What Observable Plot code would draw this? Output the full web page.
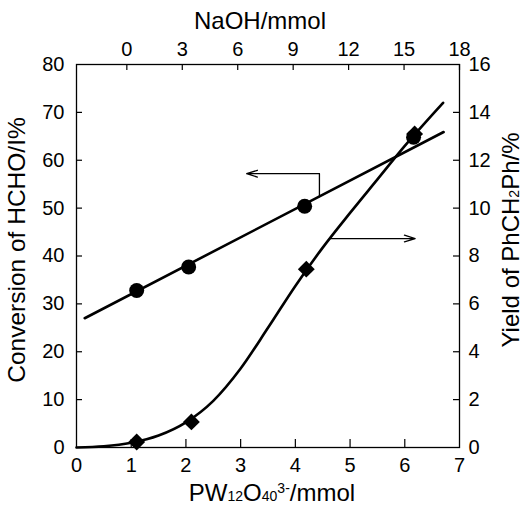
<!DOCTYPE html>
<html><head><meta charset="utf-8">
<script src="https://cdn.jsdelivr.net/npm/d3@7"></script>
<script src="https://cdn.jsdelivr.net/npm/@observablehq/plot@0.6"></script>
<style>body{margin:0;background:#fff} svg{display:block}</style>
</head><body><div id="chart"></div>
<script>
// ---- data ----
const pwConv = [1.10, 2.05, 4.17, 6.16];          // PW12O40(3-) mmol (circles)
const conversion = [32.8, 37.7, 50.4, 64.8];      // Conversion of HCHO (%)
const pwYield = [1.10, 2.10, 4.20, 6.18];         // PW12O40(3-) mmol (diamonds)
const yieldPh = [0.23, 1.07, 7.45, 13.1];         // Yield of PhCH2Ph (%)
const fitLineX = [0.15, 6.71];                    // straight fit through circles
const fitLineY = [27.0, 65.9];
const curveX = [0, 0.5, 1.0, 1.5, 2.0, 2.5, 3.0, 3.5, 4.0, 4.5, 5.0, 5.5, 6.0, 6.7];
const curveY = [0, 0.05, 0.2, 0.5, 1.05, 1.95, 3.3, 5.0, 6.75, 8.35, 9.8, 11.2, 12.6, 14.4];
const xTicks = [0, 1, 2, 3, 4, 5, 6, 7];
const yLeftTicks = [0, 10, 20, 30, 40, 50, 60, 70, 80];
const yRightTicks = [0, 2, 4, 6, 8, 10, 12, 14, 16];
const naohTicks = [0, 3, 6, 9, 12, 15, 18];
const naohZeroAtPW = 0.92;   // where NaOH = 0 sits on the PW axis
const naohMaxAtPW = 7;       // where NaOH = 18 sits
const arrowLeftX = [4.44, 3.11], arrowLeftY = 57.2, arrowLeftFoot = 52.4;   // points to left axis
const arrowRightX = [4.64, 6.19], arrowRightYield = 8.73;                  // points to right axis

// ---- helpers ----
const yr = v => v * 5; // right axis 0–16 onto left scale 0–80
const naohToPW = n => naohZeroAtPW + n * (naohMaxAtPW - naohZeroAtPW) / 18;
const pwToNaoh = p => Math.round((p - naohZeroAtPW) * 18 / (naohMaxAtPW - naohZeroAtPW));

const W = 526, H = 508, mL = 76, mR = 67, mT = 64, mB = 61;
const fw = W - mL - mR, fh = H - mT - mB;
const font = "'Liberation Sans', Arial, Helvetica, sans-serif";

const conv = pwConv.map((x, i) => ({x, y: conversion[i]}));
const yld = pwYield.map((x, i) => ({x, y: yieldPh[i]}));
const fit = fitLineX.map((x, i) => ({x, y: fitLineY[i]}));
const curve = curveX.map((x, i) => ({x, y: curveY[i]}));

const plot = Plot.plot({
  width: W, height: H,
  marginLeft: mL, marginRight: mR, marginTop: mT, marginBottom: mB,
  x: {domain: [0, 7]},
  y: {domain: [0, 80]},
  style: {fontFamily: font, fontSize: "20px", color: "black", background: "white", overflow: "visible"},
  marks: [
    // inward ticks
    Plot.tickX(xTicks.slice(1, -1), {x: d => d, insetTop: fh - 8, stroke: "black", strokeWidth: 1.2}),
    Plot.tickX(naohTicks.map(naohToPW), {x: d => d, insetBottom: fh - 6, stroke: "black", strokeWidth: 1.2}),
    Plot.tickY(yLeftTicks.slice(1, -1), {y: d => d, insetRight: fw - 6, stroke: "black", strokeWidth: 1.2}),
    Plot.tickY(yRightTicks.slice(1, -1).map(yr), {y: d => d, insetLeft: fw - 6, stroke: "black", strokeWidth: 1.2}),
    // tick labels
    Plot.axisX(xTicks, {anchor: "bottom", tickSize: 0, tickPadding: 10, label: null}),
    Plot.axisX(naohTicks.map(naohToPW), {anchor: "top", tickSize: 0, tickPadding: 9, label: null, tickFormat: pwToNaoh}),
    Plot.axisY(yLeftTicks, {anchor: "left", tickSize: 0, tickPadding: 12, label: null}),
    Plot.axisY(yRightTicks.map(yr), {anchor: "right", tickSize: 0, tickPadding: 9, label: null, tickFormat: d => d / 5}),
    Plot.frame({stroke: "black", strokeWidth: 1.3}),
    // fit line and curve
    Plot.line(fit, {x: "x", y: "y", stroke: "black", strokeWidth: 2.6}),
    Plot.line(curve, {x: "x", y: d => yr(d.y), curve: "monotone-x", stroke: "black", strokeWidth: 2.6}),
    // markers
    Plot.dot(conv, {x: "x", y: "y", r: 7.5, fill: "black", stroke: null}),
    Plot.dot(yld, {x: "x", y: d => yr(d.y), r: 7.6, symbol: "diamond2", fill: "black", stroke: null}),
    // arrows
    Plot.line([{x: arrowLeftX[0], y: arrowLeftFoot}, {x: arrowLeftX[0], y: arrowLeftY}], {x: "x", y: "y", stroke: "black", strokeWidth: 1.3}),
    Plot.arrow([{x1: arrowLeftX[0], x2: arrowLeftX[1], y: arrowLeftY}], {x1: "x1", x2: "x2", y1: "y", y2: "y", stroke: "black", strokeWidth: 1.3, headLength: 13, headAngle: 35}),
    Plot.arrow([{x1: arrowRightX[0], x2: arrowRightX[1], y: yr(arrowRightYield)}], {x1: "x1", x2: "x2", y1: "y", y2: "y", stroke: "black", strokeWidth: 1.3, headLength: 13, headAngle: 35})
  ]
});

const svg = d3.select(plot);
const t = (x, y) => svg.append("text").attr("x", x).attr("y", y)
  .attr("font-family", font).attr("font-size", 24).attr("fill", "black").attr("text-anchor", "middle");

t(260, 29).text("NaOH/mmol");

const bt = t(272, 501);
bt.append("tspan").text("PW");
bt.append("tspan").attr("font-size", 14).text("12");
bt.append("tspan").text("O");
bt.append("tspan").attr("font-size", 14).text("40");
bt.append("tspan").attr("font-size", 14).attr("dy", -8).text("3-");
bt.append("tspan").attr("dy", 8).text("/mmol");

t(0, 0).attr("transform", "translate(25,250) rotate(-90)").attr("font-size", 24.5).text("Conversion of HCHO/I%");

const rt = t(0, 0).attr("transform", "translate(519,240) rotate(-90)");
rt.append("tspan").text("Yield of PhCH");
rt.append("tspan").attr("font-size", 14).text("2");
rt.append("tspan").text("Ph/%");

document.getElementById("chart").appendChild(plot);
</script>
</body></html>
